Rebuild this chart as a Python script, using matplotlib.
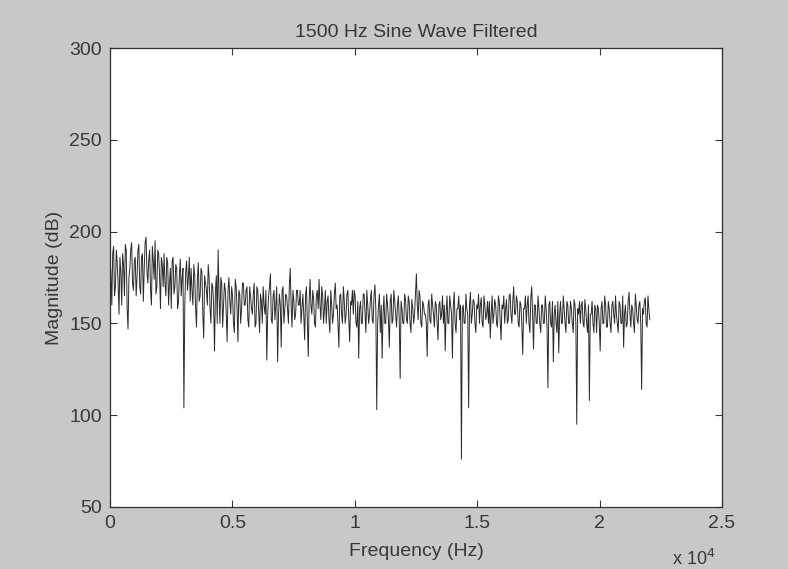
import numpy as np
import matplotlib
matplotlib.use("Agg")
import matplotlib.pyplot as plt

plt.rcParams['font.family'] = ['Liberation Sans', 'DejaVu Sans']

title = "1500 Hz Sine Wave Filtered"
xlabel = "Frequency (Hz)"
ylabel = "Magnitude (dB)"
x_ticks = [0, 5000, 10000, 15000, 20000, 25000]
x_tick_labels = ["0", "0.5", "1", "1.5", "2", "2.5"]
y_ticks = [50, 100, 150, 200, 250, 300]
f_max = 22050  # Nyquist frequency of the spectrum (Hz)

# Magnitude (dB): even bins (15 per ~1100 Hz segment)
magnitude_even = [
    185, 160, 192, 170, 183, 155, 178, 188, 165, 190, 147, 180, 194, 168, 186,
    175, 193, 166, 188, 180, 197, 172, 190, 160, 184, 195, 170, 188, 158, 182,
    188, 165, 183, 172, 158, 186, 170, 180, 162, 185, 175, 104, 178, 168, 186,
    180, 160, 176, 148, 183, 165, 178, 142, 172, 160, 175, 150, 170, 135, 176,
    190, 150, 172, 160, 168, 140, 175, 155, 165, 145, 170, 140, 166, 158, 172,
    160, 170, 148, 165, 155, 172, 150, 168, 145, 162, 170, 155, 130, 165, 177,
    150, 168, 160, 129, 166, 137, 170, 158, 165, 150, 180, 148, 162, 155, 168,
    160, 150, 166, 141, 170, 132, 174, 155, 163, 148, 168, 174, 152, 165, 158,
    150, 165, 145, 160, 155, 172, 160, 137, 166, 150, 162, 155, 168, 140, 160,
    155, 165, 148, 131, 162, 150, 166, 145, 160, 155, 168, 150, 171, 103, 160,
    145, 131, 165, 150, 160, 137, 166, 152, 162, 148, 165, 120, 158, 150, 163,
    150, 162, 145, 158, 155, 177, 152, 165, 148, 160, 155, 132, 163, 150, 160,
    148, 160, 141, 162, 155, 150, 135, 165, 150, 160, 131, 167, 145, 158, 152,
    76, 160, 150, 158, 104, 167, 155, 162, 145, 158, 150, 164, 148, 160, 155,
    150, 142, 165, 155, 160, 148, 162, 141, 158, 150, 163, 152, 166, 150, 170,
    155, 162, 148, 160, 133, 158, 150, 165, 145, 170, 136, 160, 150, 158, 145,
    160, 150, 158, 115, 162, 148, 129, 160, 145, 134, 162, 150, 158, 145, 160,
    150, 158, 145, 160, 95, 155, 150, 162, 148, 158, 145, 108, 155, 150, 160,
    145, 158, 135, 162, 150, 160, 148, 158, 145, 162, 150, 155, 145, 160, 150,
    137, 160, 150, 167, 148, 158, 145, 160, 150, 162, 114, 155, 164, 148, 158,
]

# Magnitude (dB): odd bins (in between the even ones)
magnitude_odd = [
    178, 188, 165, 190, 172, 186, 160, 182, 193, 158, 175, 190, 172, 184, 165,
    190, 170, 186, 162, 194, 178, 185, 168, 192, 174, 166, 190, 176, 186, 170,
    172, 186, 160, 180, 184, 166, 182, 158, 176, 165, 180, 160, 184, 175, 162,
    168, 182, 158, 175, 162, 180, 155, 176, 168, 182, 158, 172, 160, 168, 150,
    165, 175, 148, 172, 155, 168, 162, 170, 150, 174, 158, 168, 150, 172, 160,
    168, 152, 170, 158, 166, 148, 170, 156, 166, 150, 160, 168, 155, 170, 152,
    165, 152, 170, 155, 160, 168, 150, 166, 158, 170, 160, 168, 152, 168, 160,
    168, 158, 155, 165, 150, 162, 160, 168, 150, 165, 158, 160, 170, 150, 168,
    162, 152, 168, 150, 166, 158, 150, 165, 155, 170, 150, 166, 152, 162, 168,
    168, 150, 162, 158, 150, 166, 155, 168, 150, 163, 152, 165, 158, 150, 166,
    160, 155, 150, 166, 152, 162, 150, 168, 155, 160, 152, 162, 150, 166, 152,
    165, 150, 163, 150, 166, 160, 168, 150, 162, 155, 150, 160, 152, 166, 155,
    162, 150, 160, 152, 165, 160, 155, 150, 165, 155, 160, 150, 158, 165, 160,
    158, 150, 166, 155, 160, 150, 163, 150, 160, 166, 160, 150, 165, 152, 162,
    162, 155, 150, 163, 150, 165, 152, 160, 165, 158, 150, 165, 155, 162, 155,
    165, 150, 162, 150, 158, 165, 160, 150, 164, 155, 160, 150, 165, 150, 160,
    150, 165, 148, 160, 150, 162, 155, 150, 162, 155, 150, 165, 150, 162, 150,
    162, 150, 163, 150, 158, 162, 160, 150, 163, 150, 160, 155, 162, 145, 158,
    160, 150, 158, 150, 165, 148, 162, 150, 160, 155, 165, 150, 162, 150, 165,
    155, 148, 162, 155, 160, 150, 166, 152, 160, 150, 158, 162, 150, 165, 152,
]

magnitude_db = np.empty(len(magnitude_even) + len(magnitude_odd))
magnitude_db[0::2] = magnitude_even
magnitude_db[1::2] = magnitude_odd
freq_hz = np.linspace(0, f_max, len(magnitude_db))

bg = '#c8c8c8'
txt = '#383838'
fig = plt.figure(figsize=(7.88, 5.69), dpi=100, facecolor=bg)
ax = fig.add_axes([0.1396, 0.109, 0.7766, 0.8066])
ax.set_facecolor('white')

ax.plot(freq_hz, magnitude_db, color='#2a2a2a', linewidth=0.7)

ax.set_xlim(0, 25000)
ax.set_ylim(50, 300)
ax.set_xticks(x_ticks)
ax.set_xticklabels(x_tick_labels)
ax.set_yticks(y_ticks)

ax.tick_params(direction='in', length=5, width=0.8, top=True, right=True,
               labelsize=14, colors=txt, pad=6)
for s in ax.spines.values():
    s.set_color('#303030')
    s.set_linewidth(0.9)

ax.set_title(title, fontsize=14, color=txt, pad=8)
ax.set_xlabel(xlabel, fontsize=14, color=txt, labelpad=8)
ax.set_ylabel(ylabel, fontsize=14, color=txt, labelpad=4)

fig.text(0.853, 0.0, r"x 10$^{4}$", fontsize=13, color=txt, ha='left', va='bottom')

fig.savefig('out.png', dpi=100, facecolor=bg)
